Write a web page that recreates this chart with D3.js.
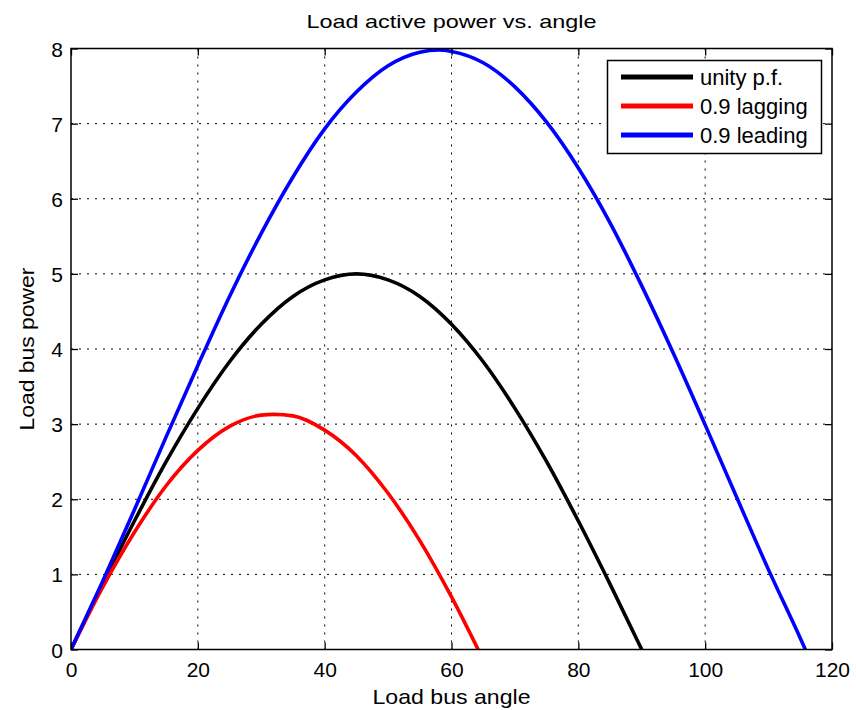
<!DOCTYPE html>
<html>
<head>
<meta charset="utf-8">
<script src="https://cdn.jsdelivr.net/npm/d3@7"></script>
<style>
  body { margin: 0; background: #fff; }
  svg text { font-family: "Liberation Sans", Arial, Helvetica, sans-serif; fill: #000; }
</style>
</head>
<body>
<svg id="chart" width="856" height="710"></svg>
<script>
// values (angle in degrees, power)
const unityAngle = [0, 5, 10, 15, 20, 25, 30, 35, 40, 45, 50, 55, 60, 65, 70, 75, 80, 85, 90];
const unityPower = [0, 0.87, 1.71, 2.5, 3.21, 3.83, 4.33, 4.70, 4.92, 5.0, 4.92, 4.70, 4.33, 3.83, 3.21, 2.5, 1.71, 0.87, 0];

const laggingAngle = [0, 5, 10, 15, 20, 25, 30, 32, 35, 40, 45, 50, 55, 60, 64.2];
const laggingPower = [0, 0.83, 1.56, 2.18, 2.65, 2.97, 3.12, 3.13, 3.11, 2.92, 2.58, 2.08, 1.45, 0.70, 0];

const leadingAngle = [0, 5, 10, 15, 20, 25, 30, 35, 40, 45, 50, 55, 58, 60, 65, 70, 75, 80, 85, 90, 95, 100, 105, 110, 115, 115.8];
const leadingPower = [0, 0.91, 1.86, 2.83, 3.78, 4.70, 5.54, 6.29, 6.93, 7.42, 7.77, 7.95, 7.98, 7.96, 7.81, 7.49, 7.02, 6.41, 5.68, 4.84, 3.94, 2.99, 2.02, 1.06, 0.15, 0];

const seriesNames = ["unity p.f.", "0.9 lagging", "0.9 leading"];
const seriesColors = ["#000000", "#ff0000", "#0000ff"];

const xTicks = [0, 20, 40, 60, 80, 100, 120];
const yTicks = [0, 1, 2, 3, 4, 5, 6, 7, 8];

const series = [
    { name: seriesNames[0], color: seriesColors[0], pts: unityAngle.map((a, i) => [a, unityPower[i]]) },
    { name: seriesNames[1], color: seriesColors[1], pts: laggingAngle.map((a, i) => [a, laggingPower[i]]) },
    { name: seriesNames[2], color: seriesColors[2], pts: leadingAngle.map((a, i) => [a, leadingPower[i]]) }
];

const plotLeft = 71, plotRight = 832, plotTop = 48.5, plotBottom = 649.5;

const x = d3.scaleLinear().domain([0, 120]).range([plotLeft, plotRight]);
const y = d3.scaleLinear().domain([0, 8]).range([plotBottom, plotTop]);

const svg = d3.select("#chart");

// grid
const grid = svg.append("g")
    .attr("stroke", "#000")
    .attr("stroke-width", 1)
    .attr("stroke-dasharray", "2,6");

grid.selectAll("line.vx")
    .data(xTicks.slice(1, -1))
    .enter().append("line")
    .attr("class", "vx")
    .attr("x1", d => x(d)).attr("x2", d => x(d))
    .attr("y1", plotTop).attr("y2", plotBottom);

grid.selectAll("line.hy")
    .data(yTicks.slice(1, -1))
    .enter().append("line")
    .attr("class", "hy")
    .attr("x1", plotLeft).attr("x2", plotRight)
    .attr("y1", d => y(d)).attr("y2", d => y(d));

// curves
const line = d3.line()
    .x(d => x(d[0]))
    .y(d => y(d[1]))
    .curve(d3.curveMonotoneX);

svg.append("clipPath").attr("id", "clip")
    .append("rect")
    .attr("x", plotLeft).attr("y", plotTop - 3)
    .attr("width", plotRight - plotLeft).attr("height", plotBottom - plotTop + 3);

svg.append("g")
    .attr("clip-path", "url(#clip)")
    .selectAll("path")
    .data(series)
    .enter().append("path")
    .attr("d", d => line(d.pts))
    .attr("fill", "none")
    .attr("stroke", d => d.color)
    .attr("stroke-width", 3.6)
    .attr("stroke-linejoin", "round");

// axes, ticks pointing inward on all four sides
const tickLen = 7;
const axisBottom = svg.append("g")
    .attr("transform", `translate(0,${plotBottom})`)
    .call(d3.axisBottom(x).tickValues(xTicks).tickSizeInner(-tickLen).tickSizeOuter(0).tickPadding(13));
const axisTop = svg.append("g")
    .attr("transform", `translate(0,${plotTop})`)
    .call(d3.axisTop(x).tickValues(xTicks).tickSizeInner(-tickLen).tickSizeOuter(0).tickFormat(""));
const axisLeft = svg.append("g")
    .attr("transform", `translate(${plotLeft},0)`)
    .call(d3.axisLeft(y).tickValues(yTicks).tickSizeInner(-tickLen).tickSizeOuter(0).tickPadding(8));
const axisRight = svg.append("g")
    .attr("transform", `translate(${plotRight},0)`)
    .call(d3.axisRight(y).tickValues(yTicks).tickSizeInner(-tickLen).tickSizeOuter(0).tickFormat(""));

[axisBottom, axisTop, axisLeft, axisRight].forEach(g => {
    g.select(".domain").remove();
    g.selectAll(".tick line").attr("stroke", "#000").attr("stroke-width", 1.3);
    g.selectAll(".tick text").style("font-size", "21px").attr("fill", "#000");
});
axisLeft.selectAll(".tick text").attr("dy", "0.36em");

svg.append("rect")
    .attr("x", plotLeft).attr("y", plotTop)
    .attr("width", plotRight - plotLeft).attr("height", plotBottom - plotTop)
    .attr("fill", "none")
    .attr("stroke", "#000")
    .attr("stroke-width", 1.5);

// title and axis labels (the source font is wider than Arial, so stretch to the measured length)
svg.append("text")
    .attr("x", (plotLeft + plotRight) / 2).attr("y", 28)
    .attr("text-anchor", "middle")
    .attr("textLength", 290)
    .attr("lengthAdjust", "spacingAndGlyphs")
    .style("font-size", "19px")
    .text("Load active power vs. angle");

svg.append("text")
    .attr("x", (plotLeft + plotRight) / 2).attr("y", 704)
    .attr("text-anchor", "middle")
    .attr("textLength", 158)
    .attr("lengthAdjust", "spacingAndGlyphs")
    .style("font-size", "21px")
    .text("Load bus angle");

svg.append("text")
    .attr("transform", `translate(33.5,${(plotTop + plotBottom) / 2}) rotate(-90)`)
    .attr("text-anchor", "middle")
    .attr("textLength", 163)
    .attr("lengthAdjust", "spacingAndGlyphs")
    .style("font-size", "21px")
    .text("Load bus power");

// legend
const legend = svg.append("g");
legend.append("rect")
    .attr("x", 607.5).attr("y", 60.5)
    .attr("width", 214).attr("height", 93)
    .attr("fill", "#fff")
    .attr("stroke", "#000")
    .attr("stroke-width", 1.5);

const rowY = d3.scalePoint().domain(seriesNames).range([77, 135]);

legend.selectAll("line")
    .data(series)
    .enter().append("line")
    .attr("x1", 621).attr("x2", 693)
    .attr("y1", d => rowY(d.name)).attr("y2", d => rowY(d.name))
    .attr("stroke", d => d.color)
    .attr("stroke-width", 5);

legend.selectAll("text")
    .data(series)
    .enter().append("text")
    .attr("x", 700)
    .attr("y", d => rowY(d.name))
    .attr("dy", "0.36em")
    .style("font-size", "22px")
    .text(d => d.name);
</script>
</body>
</html>
